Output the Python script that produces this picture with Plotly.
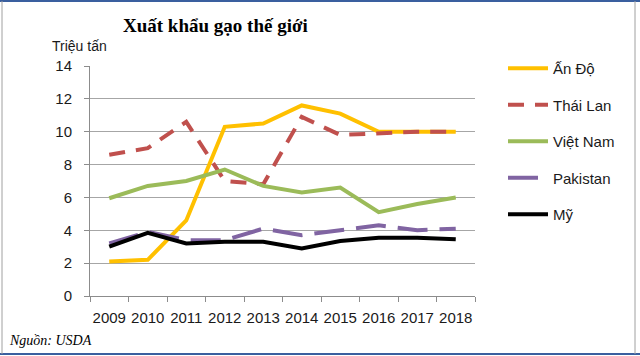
import plotly.graph_objects as go

years = ["2009", "2010", "2011", "2012", "2013", "2014", "2015", "2016", "2017", "2018"]
an_do = [2.1, 2.2, 4.6, 10.3, 10.5, 11.6, 11.1, 10.0, 10.0, 10.0]
thai_lan = [8.6, 9.0, 10.6, 7.0, 6.8, 10.9, 9.8, 9.9, 10.0, 10.0]
viet_nam = [5.95, 6.7, 7.0, 7.7, 6.7, 6.3, 6.6, 5.1, 5.6, 6.0]
pakistan = [3.2, 3.9, 3.4, 3.4, 4.1, 3.7, 4.0, 4.3, 4.0, 4.1]
my = [3.0, 3.85, 3.2, 3.3, 3.3, 2.9, 3.35, 3.55, 3.55, 3.45]

series = [
    ("Ấn Độ", an_do, "#FFC000", "solid"),
    ("Thái Lan", thai_lan, "#C0504D", "16px,11px"),
    ("Việt Nam", viet_nam, "#9BBB59", "solid"),
    ("Pakistan", pakistan, "#8064A2", "30px,12px"),
    ("Mỹ", my, "#000000", "solid"),
]

fig = go.Figure()
for i, (name, vals, color, dash) in enumerate(series):
    fig.add_trace(go.Scatter(
        x=years, y=vals, name=name, mode="lines",
        line=dict(color=color, width=4, dash=dash),
        legendgroup=str(i),
    ))

W, H = 640, 356
L, R, T, B = 90, 165, 66, 60
pw, ph = W - L - R, H - T - B

def px(x):
    return (x - L) / pw

def py(y):
    return (H - B - y) / ph

fig.update_layout(
    width=W, height=H,
    margin=dict(l=L, r=R, t=T, b=B, autoexpand=False),
    paper_bgcolor="white", plot_bgcolor="white",
    font=dict(family="Liberation Sans, Arial, sans-serif", size=15, color="#1a1a1a"),
    showlegend=True,
    legend=dict(
        x=px(503), y=py(52), xanchor="left", yanchor="top",
        font=dict(size=15), tracegroupgap=14,
        bgcolor="rgba(0,0,0,0)", itemwidth=40, maxheight=300,
    ),
    xaxis=dict(
        type="category", showgrid=False, showline=True, linecolor="#8c8c8c", linewidth=1,
        ticks="outside", tickson="boundaries", ticklen=5, tickcolor="#8c8c8c",
        tickfont=dict(size=15), range=[-0.5, 9.5], tickangle=0, automargin=False,
        ticklabelstandoff=8,
    ),
    yaxis=dict(
        range=[0, 14], dtick=2, showgrid=True, gridcolor="#a6a6a6", gridwidth=1,
        showline=True, linecolor="#8c8c8c", linewidth=1,
        ticks="outside", ticklen=5, tickcolor="#8c8c8c",
        tickfont=dict(size=15), zeroline=False, ticklabelstandoff=9, automargin=False,
    ),
    annotations=[
        dict(text="<b>Xuất khẩu gạo thế giới</b>", x=px(215), y=py(26), xref="paper", yref="paper",
             xanchor="center", yanchor="middle",
             showarrow=False, font=dict(family="Liberation Serif, Times New Roman, serif", size=19, color="black")),
        dict(text="Triệu tấn", x=px(50), y=py(46), xref="paper", yref="paper", xanchor="left", yanchor="middle",
             showarrow=False, font=dict(size=14, color="#1a1a1a")),
        dict(text="<i>Nguồn: USDA</i>", x=px(7), y=py(340), xref="paper", yref="paper", xanchor="left",
             yanchor="middle",
             showarrow=False, font=dict(family="Liberation Serif, Times New Roman, serif", size=14, color="black")),
    ],
    shapes=[
        dict(type="line", xref="paper", yref="paper", x0=px(0), x1=px(640), y0=py(1), y1=py(1),
             line=dict(color="#3a5f9f", width=2)),
        dict(type="line", xref="paper", yref="paper", x0=px(0), x1=px(640), y0=py(354), y1=py(354),
             line=dict(color="#3a5f9f", width=2)),
        dict(type="line", xref="paper", yref="paper", x0=px(2), x1=px(2), y0=py(1), y1=py(354),
             line=dict(color="#a0a0a0", width=1)),
        dict(type="line", xref="paper", yref="paper", x0=px(635), x1=px(635), y0=py(1), y1=py(354),
             line=dict(color="#a0a0a0", width=1)),
    ],
)

fig.write_html(
    "out.html",
    config={"displayModeBar": False},
    post_script=(
        "document.body.style.margin='0';"
        "document.body.style.overflow='hidden';"
        "document.documentElement.style.overflow='hidden';"
    ),
)
